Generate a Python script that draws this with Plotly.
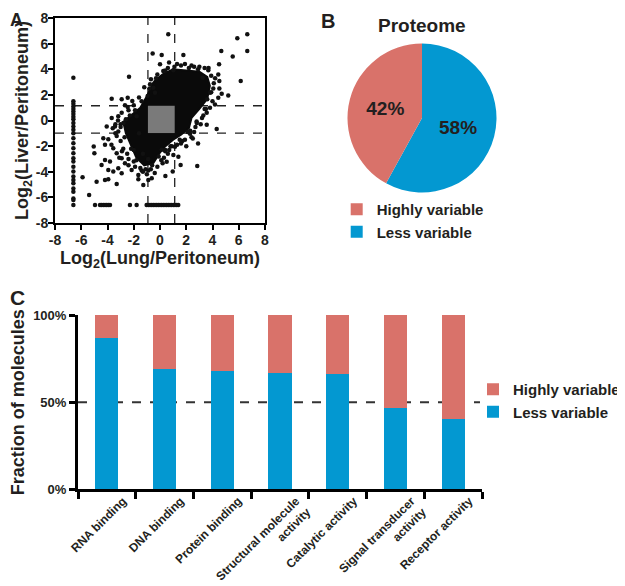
import plotly.graph_objects as go

# The page places the figure 8px from the top-left corner of the 625x586 window,
# so the figure is sized to fill exactly the visible area.
WIN_W, WIN_H = 625, 586
OFF = 8
W, H = WIN_W - OFF, WIN_H - OFF
FONT = "Arial, 'Liberation Sans', Helvetica, sans-serif"
RED = "#D9726A"
BLUE = "#0398D1"

# ---------------- Panel A data ----------------
axis_ticks = [-8, -6, -4, -2, 0, 2, 4, 6, 8]
axis_ticktext = ["-8", "-6", "-4", "-2", "0", "2", "4", "6", "8"]

# thresholds (dashed lines / grey box of unchanged proteins)
x_lo, x_hi = -0.92, 1.12
y_lo, y_hi = -0.98, 1.15

# outline of the dense (saturated) core of the point cloud
cloud_x = [-0.5, 0.2, 1.0, 2.0, 3.0, 3.6, 3.8, 3.6, 3.0, 2.4, 2.2, 1.6, 1.0, 0.3, 0.0,
           -0.5, -1.2, -1.8, -2.2, -2.6, -2.8, -2.1, -1.5, -1.0]
cloud_y = [3.0, 3.6, 4.0, 3.9, 3.8, 3.4, 2.7, 1.7, 0.9, 0.2, -0.6, -1.1, -1.5, -2.1, -2.5,
           -3.3, -3.5, -2.9, -1.9, -1.0, -0.1, 0.5, 1.0, 1.9]

# individual proteins outside the saturated core
pts_x = [-6.6, -2.36, -0.56, -0.69, -3.68, -2.92, -2.46, -2.11, -2.67, -2.46, -2.92, -3.18,
         -3.68, -1.78, -0.51, -0.38, -0.94, -0.76,
         0.63, 6.65, 5.89, 6.65, 4.67, 5.54, 1.78, 0.13, 0.69, 1.02, 6.15, 4.5, 4.44, 4.52,
         4.52, 4.7, 5.2, 4.44, 4.19, 3.81, 3.56, 3.68, 3.25, 4.06, 3.81, 3.6, 0.0, 0.25,
         -5.4, -5.9, -4.83, -4.19, -3.94, -3.3, -5.05, -5.0, -4.19, -3.81, -4.45, -3.94,
         -3.56, -3.18, -2.92, -4.32, -3.94, -4.19, -3.56, -3.3, -2.92, -2.67, -2.16, -1.65,
         -1.27, -1.65, -0.89, -0.63, -4.06, -3.43, -2.79, -3.18,
         3.56, 4.32, 2.29, 2.79, 1.14, 1.02, 1.4, 0.51, 1.57, 2.84, 0.97, 0.41, 0.13, 0.2,
         -3.4, -3.0, -2.8, -2.5, -2.0, -1.4, -0.9, -0.2, 0.6, 1.3, 1.9, 2.6, 3.1, 3.3, 4.0,
         4.1, 3.9, 3.0, 2.4, 1.9, 1.3, 0.6, -0.2, -1.2, -1.6, -2.0, -2.4, -3.2, -3.6, -3.7,
         -3.1, -2.4, -1.0, -0.4, 0.3, 2.0, 2.5, 2.9,
         -3.0, -3.3, -2.7, -2.2, -1.8, -1.5, -1.1, -0.6, -0.1, 0.4, 0.9, 1.5, 2.1, 2.7, 3.2,
         3.5, 3.9, 4.2, 3.7, 3.4, 2.9, 2.6, 2.2, 1.6, 1.1, 0.4, -0.3, -0.8, -1.4, -1.9,
         -2.3, -2.6, -3.0, -3.4, -2.9, -2.4, -1.9, -1.3, -0.7, 0.1, 0.7, 1.7, 2.3, 2.8, 3.4,
         -2.0, -1.6, -1.3, -0.9, 0.4, 0.8, 1.6, 2.4]
pts_y = [3.34, 3.42, 5.22, 3.21, 1.7, 1.65, 1.78, 1.52, 1.2, 1.05, 0.6, 0.34,
         0.2, 0.34, 2.56, 2.17, 1.91, 2.82,
         6.73, 6.73, 6.42, 5.43, 5.43, 4.99, 5.12, 5.12, 4.52, 3.92, 3.08, 4.39, 3.6, 3.08,
         2.5, 2.09, 1.96, 1.78, 1.25, 0.99, 0.6, 3.92, 3.34, 2.5, 2.17, 1.65, 4.39, 3.87,
         -5.82, -4.43, -4.78, -4.64, -4.59, -4.96, -2.03, -2.55, -3.08, -3.2, -3.47, -3.86,
         -3.99, -3.73, -4.12, -1.38, -1.46, -1.9, -2.16, -2.55, -2.94, -3.34, -3.86, -4.25,
         -5.04, -4.59, -4.64, -4.51, -0.47, -0.47, -0.2, -0.86,
         -0.34, -0.67, -1.04, -0.08, -2.04, -2.69, -2.82, -3.21, -3.47, -3.55, -3.99, -4.33, -2.29, -3.34,
         -1.0, -1.6, -2.2, -2.6, -3.2, -3.9, -3.9, -3.6, -2.6, -1.9, -1.5, -0.9, -0.3, 0.4, 1.5,
         2.9, 3.5, 4.2, 4.3, 4.4, 4.4, 4.1, 3.6, 2.6, 1.8, 1.2, 0.8, 0.0, -0.6, -1.9,
         -2.9, -3.5, -4.2, -4.1, -2.9, -2.0, -1.4, -1.8,
         -0.3, -1.2, -1.3, -2.2, -3.1, -3.7, -3.8, -3.5, -2.8, -2.3, -2.0, -1.5, -0.9, -0.5, 0.2,
         0.9, 2.2, 3.3, 4.1, 4.1, 4.0, 4.2, 4.1, 4.3, 4.2, 3.9, 3.3, 2.5, 1.5, 0.8,
         0.4, 0.1, -0.5, -0.3, -2.4, -3.0, -3.6, -4.0, -3.8, -3.1, -2.3, -1.6, -0.8, -0.2, 0.9,
         -2.3, -1.0, -2.6, -3.0, -2.4, -2.0, -1.8, -1.3]

# proteins absent in lung (column at far left)
col_y = [1.5, 1.3, 1.1, 0.9, 0.7, 0.5, 0.3, 0.1, -0.2, -0.47, -0.73, -0.99, -1.38, -1.77,
         -2.16, -2.55, -2.94, -3.2, -3.6, -3.99, -4.38, -4.64, -4.9, -5.3, -5.56, -6.08,
         -6.21, -6.6]
col_x_value = -6.6
# proteins absent in liver (row at bottom)
row_x = [-4.95, -4.57, -4.45, -4.32, -4.19, -4.06, -3.94, -3.81, -2.29, -1.78, -1.02, -0.89,
         -0.76, -0.63, -0.51, -0.38, -0.25, -0.13, 0.0, 0.13, 0.25, 0.38, 0.51, 0.63, 0.76,
         0.89, 1.02, 1.14, 1.27, 1.39]
row_y_value = -6.6

# ---------------- Panel B data ----------------
pie_labels = ["Less variable", "Highly variable"]
pie_values = [58, 42]
pie_colors = [BLUE, RED]

# ---------------- Panel C data ----------------
categories = ["RNA binding", "DNA binding", "Protein binding",
              "Structural molecule<br>activity", "Catalytic activity",
              "Signal transducer<br>activity", "Receptor activity"]
less_variable = [0.866, 0.69, 0.68, 0.667, 0.661, 0.466, 0.405]
highly_variable = [1 - v for v in less_variable]
frac_ticks = [0, 0.5, 1]
frac_ticktext = ["0%", "50%", "100%"]


def px_x(p):
    """window pixel -> paper fraction"""
    return (p - OFF) / W


def px_y(p):
    return 1 - (p - OFF) / H


fig = go.Figure()

# Panel A
fig.add_trace(go.Scatter(x=cloud_x + [cloud_x[0]], y=cloud_y + [cloud_y[0]], mode="lines",
                         fill="toself", fillcolor="#0a0a0a", line=dict(color="#0a0a0a", width=2),
                         xaxis="x", yaxis="y", showlegend=False, hoverinfo="skip"))
fig.add_trace(go.Scatter(x=pts_x + [col_x_value] * len(col_y) + row_x,
                         y=pts_y + col_y + [row_y_value] * len(row_x),
                         mode="markers", marker=dict(size=4.5, color="#111111"),
                         xaxis="x", yaxis="y", showlegend=False, hoverinfo="skip"))

# Panel B
fig.add_trace(go.Pie(labels=pie_labels, values=pie_values, sort=False,
                     direction="clockwise", rotation=0,
                     marker=dict(colors=pie_colors, line=dict(width=0)),
                     texttemplate="%{value}%", textposition="inside",
                     insidetextorientation="horizontal",
                     textfont=dict(family=FONT, size=19, color="#231F20", weight=700),
                     domain=dict(x=[px_x(347.5), px_x(496.5)], y=[px_y(192.5), px_y(43.5)]),
                     legend="legend", hoverinfo="skip"))

# Panel C
fig.add_trace(go.Bar(x=categories, y=less_variable, name="Less variable", marker_color=BLUE,
                     marker_line_width=0, width=0.4, xaxis="x2", yaxis="y2", legend="legend2"))
fig.add_trace(go.Bar(x=categories, y=highly_variable, name="Highly variable", marker_color=RED,
                     marker_line_width=0, width=0.4, xaxis="x2", yaxis="y2", legend="legend2"))

bold = dict(family=FONT, color="#231F20", weight=700)

fig.update_layout(
    width=W, height=H, margin=dict(l=0, r=0, t=0, b=0, autoexpand=False),
    paper_bgcolor="white", plot_bgcolor="white",
    barmode="stack", font=dict(family=FONT, color="#231F20"),
    xaxis=dict(domain=[px_x(55), px_x(265)], anchor="y", range=[-8, 8], automargin=False,
               tickvals=axis_ticks, ticktext=axis_ticktext, ticks="outside", ticklen=5,
               tickwidth=1.5, tickcolor="black", showline=True, linewidth=2, linecolor="black",
               mirror=True, showgrid=False, zeroline=False, ticklabelstandoff=-2,
               tickfont=dict(size=14, **bold),
               title=dict(text="Log<sub>2</sub>(Lung/Peritoneum)", font=dict(size=18, **bold),
                          standoff=1)),
    yaxis=dict(domain=[px_y(223), px_y(18)], anchor="x", range=[-8, 8], automargin=False,
               tickvals=axis_ticks, ticktext=axis_ticktext, ticks="outside", ticklen=5,
               tickwidth=1.5, tickcolor="black", showline=True, linewidth=2, linecolor="black",
               mirror=True, showgrid=False, zeroline=False, ticklabelstandoff=-3,
               tickfont=dict(size=14, **bold),
               title=dict(text="Log<sub>2</sub>(Liver/Peritoneum)", font=dict(size=18, **bold),
                          standoff=2)),
    xaxis2=dict(domain=[px_x(78), px_x(482)], anchor="y2", type="category", range=[-0.5, 6.5],
                automargin=False,
                tickson="boundaries", ticks="outside", ticklen=7, tickwidth=2.5,
                tickcolor="black", showline=True, linewidth=3, linecolor="black",
                showgrid=False, zeroline=False, tickangle=-45, ticklabelshift=16,
                ticklabelstandoff=-3, tickfont=dict(size=12, **bold)),
    yaxis2=dict(domain=[px_y(489.3), px_y(315)], anchor="x2", range=[0, 1], automargin=False,
                tickvals=frac_ticks, ticktext=frac_ticktext, ticks="outside", ticklen=6,
                tickwidth=2.5, tickcolor="black", showline=True, linewidth=3,
                linecolor="black", showgrid=False, zeroline=False,
                tickfont=dict(size=13, **bold),
                title=dict(text="Fraction of molecules", font=dict(size=18, **bold), standoff=8)),
    legend=dict(x=px_x(336.7), y=px_y(193), xanchor="left", yanchor="top",
                font=dict(size=15, **bold), bgcolor="rgba(0,0,0,0)", traceorder="reversed",
                itemclick=False),
    legend2=dict(x=1.0, y=px_y(373), xanchor="right", yanchor="top",
                 font=dict(size=15, **bold), bgcolor="rgba(0,0,0,0)", traceorder="reversed",
                 itemclick=False),
    shapes=[
        dict(type="line", xref="x", yref="y domain", x0=x_lo, x1=x_lo, y0=0, y1=1,
             line=dict(color="#222", width=1.3, dash="dash"), layer="below"),
        dict(type="line", xref="x", yref="y domain", x0=x_hi, x1=x_hi, y0=0, y1=1,
             line=dict(color="#222", width=1.3, dash="dash"), layer="below"),
        dict(type="line", xref="x domain", yref="y", x0=0, x1=1, y0=y_lo, y1=y_lo,
             line=dict(color="#222", width=1.3, dash="dash"), layer="below"),
        dict(type="line", xref="x domain", yref="y", x0=0, x1=1, y0=y_hi, y1=y_hi,
             line=dict(color="#222", width=1.3, dash="dash"), layer="below"),
        dict(type="rect", xref="x", yref="y", x0=x_lo, x1=x_hi, y0=y_lo, y1=y_hi,
             fillcolor="#7a7a7a", line=dict(width=0), layer="above"),
        dict(type="line", xref="x2 domain", yref="y2", x0=0, x1=0.995, y0=0.5, y1=0.5,
             line=dict(color="#333", width=2, dash="dash"), layer="below"),
    ],
    annotations=[
        dict(text="A", x=0.0, y=1.0, xref="paper", yref="paper", xanchor="left",
             yanchor="top", showarrow=False, font=dict(size=18, **bold)),
        dict(text="B", x=px_x(319), y=1.0, xref="paper", yref="paper", xanchor="left",
             yanchor="top", showarrow=False, font=dict(size=20, **bold)),
        dict(text="C", x=0.0, y=px_y(284), xref="paper", yref="paper", xanchor="left",
             yanchor="top", showarrow=False, font=dict(size=21, **bold)),
        dict(text="Proteome", x=px_x(422), y=px_y(25), xref="paper", yref="paper",
             xanchor="center", yanchor="middle", showarrow=False, font=dict(size=19, **bold)),
    ],
)

fig.write_html("out.html")
